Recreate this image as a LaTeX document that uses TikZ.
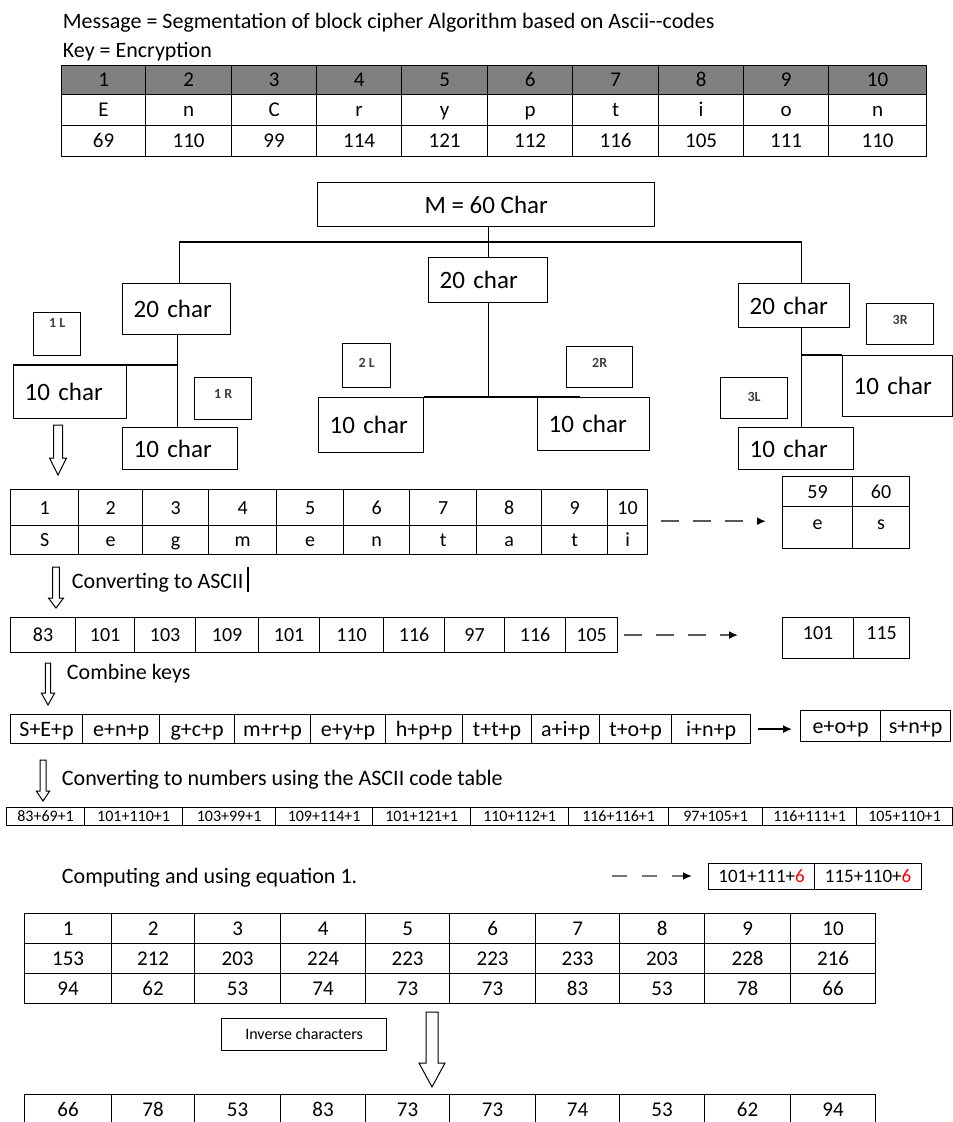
\documentclass[tikz,border=0pt]{standalone}
\usepackage{fontspec}
\setmainfont{Carlito}
\usetikzlibrary{arrows.meta}
\newcommand{\fsz}[1]{\fontsize{#1}{#1}\selectfont}
% hollow block arrow pointing down: x, top, tip, shaft half width, head half width, head length
\newcommand{\downblock}[6]{%
  \draw[line width=1pt, fill=white] ({#1-#4},#2) -- ({#1+#4},#2) -- ({#1+#4},{#3-#6})
    -- ({#1+#5},{#3-#6}) -- (#1,#3) -- ({#1-#5},{#3-#6}) -- ({#1-#4},{#3-#6}) -- cycle;}

\begin{document}
\begin{tikzpicture}[
  x=1pt, y=-1pt, line width=1.2pt,
  cell/.style={draw, anchor=north west, inner sep=0pt, font=\fsz{21}, text height=13.5pt, text depth=0pt},
  cell20/.style={cell, font=\fsz{20}, text height=12.8pt},
  chunk/.style={draw, line width=1.4pt, anchor=north west, inner xsep=11pt, inner ysep=0pt, align=left, font=\fsz{25}},
  labelbox/.style={draw, line width=1.3pt, anchor=north west, inner sep=0pt, font=\fsz{14}\bfseries, text=black!75, text depth=#1},
  caption/.style={anchor=base west, font=\fsz{22}},
  dasharrow/.style={draw=black!65, line width=2pt, dash pattern=on 18pt off 14pt, -{Latex[color=black, length=9pt, width=8pt]}}
]
\fill[white] (0,0) rectangle (953,1122);
\useasboundingbox (0,0) rectangle (953,1122);

% message and key
\node[caption] (msg) at (59,28) {Message = Segmentation of block cipher Algorithm based on Ascii-{}-codes};
\node[caption] (key) at (59,57) {Key = Encryption};
\foreach \xa/\xb/\c/\v [count=\i] in {61/145/E/69, 145/231/n/110, 231/316/C/99, 316/401/r/114, 401/487/y/121,
    487/572/p/112, 572/658/t/116, 658/743/i/105, 743/828/o/111, 828/926/n/110} {
  \node[cell, fill=black!50, minimum width={(\xb-\xa)*1pt}, minimum height=29pt] (kh\i) at (\xa,65) {\i};
  \node[cell, minimum width={(\xb-\xa)*1pt}, minimum height=31pt] (kc\i) at (\xa,94) {\c};
  \node[cell, minimum width={(\xb-\xa)*1pt}, minimum height=31pt] (kv\i) at (\xa,125) {\v};
}

% splitting tree
\node[draw, line width=1.4pt, anchor=north west, minimum width=337pt, minimum height=44pt, font=\fsz{25}] (mbox) at (317,182) {M = 60 Char};
\node[chunk, text width=86pt, minimum height=51pt] (left20) at (122,283) {20 char};
\node[chunk, text width=97pt, minimum height=45pt] (mid20) at (428,257) {20 char};
\node[chunk, text width=89pt, minimum height=44pt] (right20) at (738,283) {20 char};
\node[chunk, text width=91pt, minimum height=53pt] (leftL10) at (13,365) {10 char};
\node[chunk, text width=93pt, minimum height=42pt] (leftR10) at (122,427) {10 char};
\node[chunk, text width=83pt, minimum height=55pt] (midL10) at (318,397) {10 char};
\node[chunk, text width=90pt, minimum height=53pt] (midR10) at (537,397) {10 char};
\node[chunk, text width=88pt, minimum height=61pt] (rightR10) at (842,355) {10 char};
\node[chunk, text width=93pt, minimum height=42pt] (rightL10) at (738,427) {10 char};

\node[labelbox=23pt, minimum width=47pt, minimum height=43pt] (tag1L) at (33,312) {1 L};
\node[labelbox=10pt, minimum width=57pt, minimum height=42pt] (tag1R) at (194,377) {1 R};
\node[labelbox=6pt, minimum width=48pt, minimum height=44pt] (tag2L) at (342,343) {2 L};
\node[labelbox=9pt, minimum width=66pt, minimum height=41pt] (tag2R) at (566,346) {2R};
\node[labelbox=9pt, minimum width=67pt, minimum height=41pt] (tag3R) at (866,303) {3R};
\node[labelbox=3pt, minimum width=67pt, minimum height=41pt] (tag3L) at (720,377) {3L};

\coordinate (bar) at (486,242);
\coordinate (lstem) at ([xshift=1pt]left20.south);
\coordinate (rstem) at ([xshift=7.5pt]right20.south);
\draw (mbox.south -| mid20.north) -- (mid20.north);
\draw ([xshift=3pt]left20.north) |- (bar) -| ([xshift=7.5pt]right20.north);
\draw (lstem) -- (lstem |- leftR10.north);
\draw (leftL10.north west) -- (leftL10.north west -| lstem);
\draw (mid20.south) -- (mid20.south |- midL10.north);
\draw (midL10.north east) -- (midR10.north west);
\draw[line width=2.4pt] (midR10.north west) -- ++(43,0);
\draw (rstem) -- (rstem |- rightL10.north);
\draw (rightR10.north west) -- (rightR10.north west -| rstem);

\downblock{58}{425}{475}{4.5}{8.5}{17}

% first segment
\foreach \xa/\xb/\c [count=\i] in {10/78/S, 78/142/e, 142/208/g, 208/276/m, 276/343/e,
    343/409/n, 409/476/t, 476/541/a, 541/607/t, 607/647/i} {
  \node[cell20, minimum width={(\xb-\xa)*1pt}, minimum height=36pt] (sn\i) at (\xa,489) {\i};
  \node[cell20, minimum width={(\xb-\xa)*1pt}, minimum height=29pt] (sc\i) at (\xa,525) {\c};
}
\node[cell20, minimum width=70pt, minimum height=30pt] (rn1) at (782,476) {59};
\node[cell20, minimum width=57pt, minimum height=30pt] (rn2) at (852,476) {60};
\node[cell20, text depth=10pt, minimum width=70pt, minimum height=42pt] (rc1) at (782,506) {e};
\node[cell20, text depth=10pt, minimum width=57pt, minimum height=42pt] (rc2) at (852,506) {s};
\draw[dasharrow, shorten <=13pt, shorten >=16pt] ([yshift=5pt]sn10.south east) -- ([yshift=5pt]sn10.south east -| rn1.west);

\downblock{56}{567}{608}{3.3}{7.5}{10}
\node[caption] (toascii) at (68,588) {Converting to ASCII\hspace{4pt}\rule[-4pt]{1.3pt}{25pt}};

% ascii codes
\foreach \xa/\xb/\v [count=\i] in {10/75/83, 75/134/101, 134/195/103, 195/258/109, 258/319/101,
    319/383/110, 383/444/116, 444/504/97, 504/565/116, 565/617/105} {
  \node[cell20, minimum width={(\xb-\xa)*1pt}, minimum height=35pt] (an\i) at (\xa,617) {\v};
}
\node[cell20, text depth=11pt, minimum width=71pt, minimum height=41pt] (ar1) at (782,617) {101};
\node[cell20, text depth=11pt, minimum width=56pt, minimum height=41pt] (ar2) at (853,617) {115};
\draw[dasharrow, shorten <=6pt, shorten >=44pt] (an10.east) -- (an10.east -| ar1.west);

\downblock{48}{663}{705}{2.7}{6.7}{12}
\node[caption] (combine) at (63,679) {Combine keys};

% combined keys
\foreach \xa/\xb/\v [count=\i] in {10/82/S+E+p, 82/159/e+n+p, 159/234/g+c+p, 234/310/m+r+p, 310/385/e+y+p,
    385/462/h+p+p, 462/531/t+t+p, 531/599/a+i+p, 599/671/t+o+p, 671/750/i+n+p} {
  \node[cell, font=\fsz{22}, text height=14pt, minimum width={(\xb-\xa)*1pt}, minimum height=29pt] (cb\i) at (\xa,714) {\v};
}
\node[cell, font=\fsz{22}, text height=14pt, minimum width=80pt, minimum height=31pt] (cr1) at (800,710) {e+o+p};
\node[cell, font=\fsz{22}, text height=14pt, minimum width=70pt, minimum height=31pt] (cr2) at (880,710) {s+n+p};
\draw[line width=1.5pt, -{Latex[length=9pt, width=8pt]}, shorten <=7pt, shorten >=8pt] (cb10.east) -- (cb10.east -| cr1.west);

\downblock{43}{760}{801}{3}{6.7}{10}
\node[caption] (tonum) at (58,785) {Converting to numbers using the ASCII code table};

% numeric sums
\foreach \xa/\xb/\v [count=\i] in {6/84/83+69+1, 84/182/101+110+1, 182/275/103+99+1, 275/372/109+114+1,
    372/470/101+121+1, 470/568/110+112+1, 568/668/116+116+1, 668/762/97+105+1, 762/856/116+111+1, 856/952/105+110+1} {
  \node[cell, font=\fsz{16}, text height=10.3pt, minimum width={(\xb-\xa)*1pt}, minimum height=18pt] (nm\i) at (\xa,807) {\v};
}

\node[caption] (compute) at (58,883) {Computing and using equation 1.};
\node[cell, font=\fsz{19}, text height=12.2pt, minimum width=106pt, minimum height=26pt] (eq1) at (708,863) {101+111+\textcolor{red}{6}};
\node[cell, font=\fsz{19}, text height=12.2pt, minimum width=107pt, minimum height=26pt] (eq2) at (814,863) {115+110+\textcolor{red}{6}};
\coordinate (eqfrom) at (612,876);
\draw[dasharrow, draw=black!55, dash pattern=on 15pt off 15pt, shorten >=16pt] (eqfrom) -- (eqfrom -| eq1.west);

% results
\foreach \xa/\xb/\s/\m/\r [count=\i] in {24/111/153/94/66, 111/194/212/62/78, 194/280/203/53/53, 280/365/224/74/83,
    365/449/223/73/73, 449/535/223/73/73, 535/619/233/83/74, 619/704/203/53/53, 704/790/228/78/62, 790/875/216/66/94} {
  \node[cell, minimum width={(\xb-\xa)*1pt}, minimum height=30pt] (bi\i) at (\xa,913) {\i};
  \node[cell, minimum width={(\xb-\xa)*1pt}, minimum height=30pt] (bs\i) at (\xa,943) {\s};
  \node[cell, minimum width={(\xb-\xa)*1pt}, minimum height=30pt] (bm\i) at (\xa,973) {\m};
  \node[cell, minimum width={(\xb-\xa)*1pt}, minimum height=30pt] (br\i) at (\xa,1094) {\r};
}
\node[cell, font=\fsz{16}, text height=10.3pt, minimum width=165pt, minimum height=32pt] (inv) at (221,1018) {Inverse characters};
\downblock{432}{1012}{1087}{6}{13}{24}
\end{tikzpicture}
\end{document}
